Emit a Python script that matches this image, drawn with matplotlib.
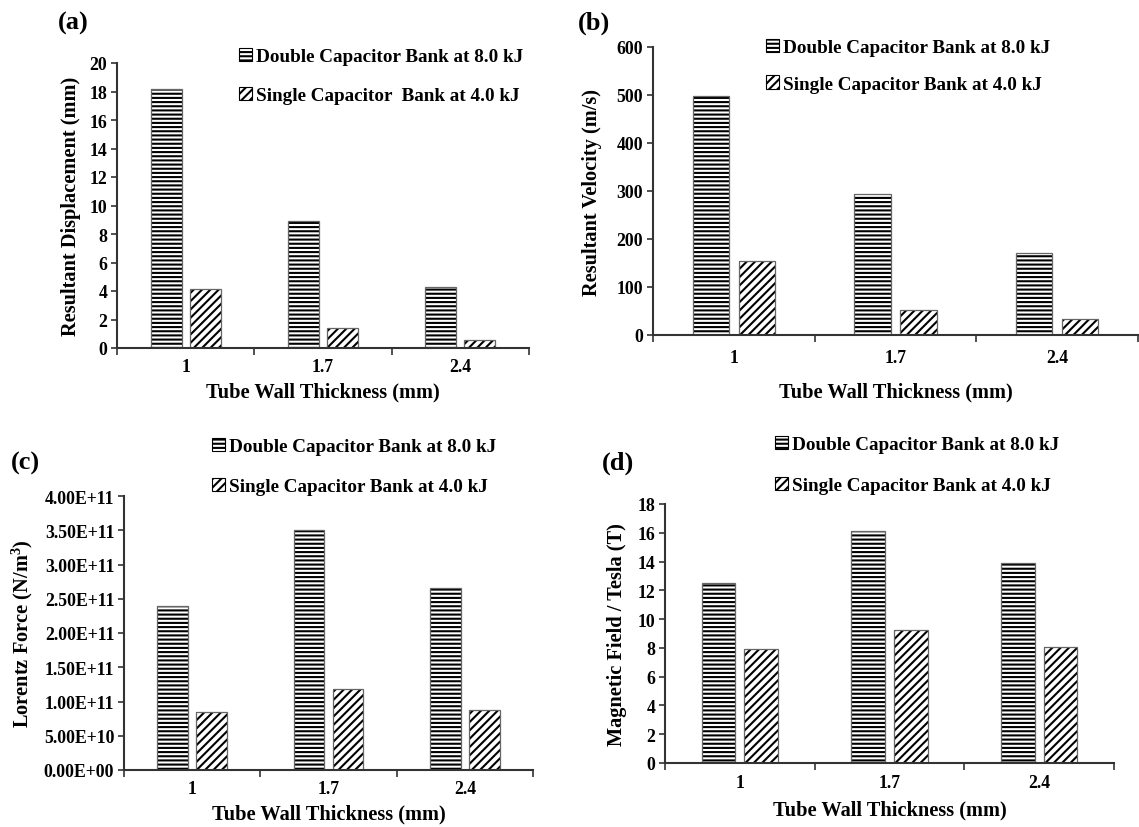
import matplotlib
matplotlib.use("Agg")
import matplotlib.pyplot as plt
from matplotlib.patches import Patch
from matplotlib.ticker import FuncFormatter, FixedLocator
import numpy as np

plt.rcParams['font.family'] = ['Liberation Serif', 'DejaVu Serif']
plt.rcParams['font.weight'] = 'bold'
plt.rcParams['axes.labelweight'] = 'bold'
plt.rcParams['mathtext.fontset'] = 'custom'
plt.rcParams['mathtext.rm'] = 'Liberation Serif'
plt.rcParams['mathtext.bf'] = 'Liberation Serif:bold'
plt.rcParams['hatch.linewidth'] = 1.5

thickness = ['1', '1.7', '2.4']

disp_double = [18.2, 8.9, 4.3]
disp_single = [4.15, 1.4, 0.55]

vel_double = [497, 293, 170]
vel_single = [155, 52, 34]

force_double = [2.40e11, 3.51e11, 2.65e11]
force_single = [8.4e10, 1.18e11, 8.8e10]

field_double = [12.5, 16.1, 13.9]
field_single = [7.95, 9.25, 8.05]

double_label = 'Double Capacitor Bank at 8.0 kJ'
single_label = 'Single Capacitor Bank at 4.0 kJ'

W, H = 1139, 828
fig = plt.figure(figsize=(W / 100, H / 100), dpi=100)


def px_axes(left, right, bottom, top):
    # pixel box -> figure fraction
    return fig.add_axes([left / W, 1 - bottom / H, (right - left) / W, (bottom - top) / H])


def draw_panel(ax, dbl, sgl, ymax, ystep, ylabel, ylab_x, xlab_y, tick_pad, fmt=None):
    x = np.arange(len(thickness))
    bw = 0.225
    off = 0.142
    for xs, vals, hatch in [(x - off, dbl, '----'), (x + off, sgl, '////')]:
        ax.bar(xs, vals, bw, color='white', edgecolor='black', hatch=hatch, linewidth=0, zorder=2)
        ax.bar(xs, vals, bw, fill=False, edgecolor='#666666', linewidth=0.9, zorder=3)
    ax.set_xlim(-0.5, len(thickness) - 0.5)
    ax.set_ylim(0, ymax)
    ax.set_yticks(np.arange(0, ymax + ystep / 2, ystep))
    if fmt:
        ax.yaxis.set_major_formatter(FuncFormatter(fmt))
    # category boundaries as tick marks, labels centred under each group
    ax.xaxis.set_major_locator(FixedLocator(np.arange(-0.5, len(thickness), 1.0)))
    ax.xaxis.set_minor_locator(FixedLocator(x))
    ax.set_xticklabels([], minor=False)
    ax.set_xticklabels(thickness, minor=True)
    ax.tick_params(axis='x', which='major', length=5, width=1.2, color='#333333', direction='out')
    ax.tick_params(axis='x', which='minor', length=0, pad=tick_pad, labelsize=12.8)
    ax.tick_params(axis='y', length=4, width=1.2, color='#333333', labelsize=12.8, pad=3)
    for s in ['top', 'right']:
        ax.spines[s].set_visible(False)
    for s in ['left', 'bottom']:
        ax.spines[s].set_color('#333333')
        ax.spines[s].set_linewidth(1.5)
        ax.spines[s].set_zorder(4)
    ax.set_ylabel(ylabel, fontsize=14.7, fontweight='bold')
    ax.yaxis.label.set_va('center')
    ax.yaxis.set_label_coords(ylab_x, 0.5)
    ax.set_xlabel('Tube Wall Thickness (mm)', fontsize=14.7, fontweight='bold')
    ax.xaxis.label.set_va('center')
    ax.xaxis.set_label_coords(0.5, xlab_y)


def add_legend(x0, y0, spacing, single_text=single_label):
    handles = [Patch(facecolor='white', edgecolor='black', hatch='----', linewidth=0.8),
               Patch(facecolor='white', edgecolor='black', hatch='////', linewidth=0.8)]
    fig.legend(handles, [double_label, single_text], loc='upper left',
               bbox_to_anchor=(x0 / W, 1 - y0 / H), frameon=False,
               prop={'size': 13.8, 'weight': 'bold'}, handlelength=0.68, handleheight=0.68,
               handletextpad=0.2, labelspacing=spacing, borderpad=0, borderaxespad=0)


ax_a = px_axes(117, 529, 349, 64)
draw_panel(ax_a, disp_double, disp_single, 20, 2, 'Resultant Displacement (mm)', -0.112, -0.154, 7)
add_legend(239, 49, 1.14, 'Single Capacitor  Bank at 4.0 kJ')

ax_b = px_axes(653, 1138, 336, 48)
draw_panel(ax_b, vel_double, vel_single, 600, 100, 'Resultant Velocity (m/s)', -0.126, -0.197, 10)
add_legend(766, 40, 1.0)

ax_c = px_axes(124, 533, 771, 497)
draw_panel(ax_c, force_double, force_single, 4e11, 5e10, r'Lorentz Force (N/m$^{\mathbf{3}}$)', -0.249, -0.16, 7,
           fmt=lambda v, p: '{:.2E}'.format(v))
add_legend(212, 439, 1.19)

ax_d = px_axes(665, 1114, 764, 505)
draw_panel(ax_d, field_double, field_single, 18, 2, 'Magnetic Field / Tesla (T)', -0.107, -0.178, 8)
add_legend(775, 437, 1.24)

for tag, (tx, ty) in zip(['(a)', '(b)', '(c)', '(d)'], [(73, 23), (594, 23), (25, 463), (618, 463)]):
    fig.text(tx / W, 1 - ty / H, tag, fontsize=19, fontweight='bold', ha='center', va='center')

fig.savefig('out.png', dpi=100)
